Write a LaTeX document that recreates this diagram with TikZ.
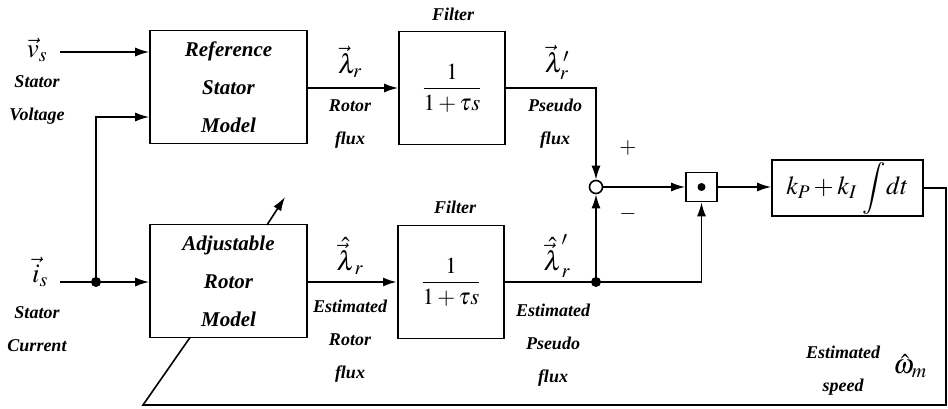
\documentclass[tikz,border=0pt]{standalone}
\usepackage{mathptmx}
\usepackage{fontspec}
\setmainfont{Liberation Serif}
\usetikzlibrary{arrows.meta}
\newcommand{\boxfont}{\fontsize{21}{38}\selectfont\bfseries\itshape}
\newcommand{\lblfont}{\fontsize{18}{33}\selectfont\bfseries\itshape}
\newcommand{\mfont}{\fontsize{27}{30}\selectfont}
\begin{document}
\begin{tikzpicture}[x=1pt,y=-1pt,
  line width=1.6pt,
  blk/.style={draw, rectangle, inner sep=0pt, font=\boxfont, align=center},
  lbl/.style={font=\lblfont, align=center, inner sep=0pt},
  sym/.style={font=\mfont, inner sep=0pt},
  arr/.style={-{Latex[length=14pt,width=9pt]}},
  dot/.style={circle, fill=black, inner sep=0pt, minimum size=10pt}]
\useasboundingbox (0,0) rectangle (948,409);
% blocks
\node[blk, minimum width=157pt, minimum height=113pt] (ref) at (228.5,87) {Reference\\Stator\\Model};
\node[blk, minimum width=157pt, minimum height=113pt] (adj) at (228.5,281) {Adjustable\\Rotor\\Model};
\node[blk, minimum width=106pt, minimum height=113pt, font=\fontsize{23}{26}\selectfont] (f1) at (452,88) {$\displaystyle\frac{\;1\;}{1+\tau s}$};
\node[blk, minimum width=106pt, minimum height=113pt, font=\fontsize{23}{26}\selectfont] (f2) at (451,282) {$\displaystyle\frac{\;1\;}{1+\tau s}$};
\node[draw, circle, inner sep=0pt, minimum size=13pt, fill=white] (sum) at (596,187) {};
\node[blk, minimum width=31pt, minimum height=29pt] (mult) at (701.5,187) {};
\node[dot, minimum size=8pt] (multdot) at (701.5,187) {};
\node[blk, minimum width=151pt, minimum height=56pt, font=\fontsize{26}{30}\selectfont] (pi) at (847.5,188) {$k_P+k_I\,\displaystyle\int\! dt$};
% input labels
\node[sym] (vs) at (37,50) {$\vec{v}_s$};
\node[lbl] (vsl) at (37,100) {Stator\\Voltage};
\node[sym] (is) at (40,272) {$\vec{i}_s$};
\node[lbl] (isl) at (37,329) {Stator\\Current};
% filter titles
\node[lbl] (ft1) at (453,14) {Filter};
\node[lbl] (ft2) at (455,207) {Filter};
% signal labels
\node[sym] (lr) at (350,62) {$\vec{\lambda}_r$};
\node[lbl] (lrl) at (350,124) {Rotor\\flux};
\node[sym] (lrp) at (557,62) {${\vec{\lambda}_r}'$};
\node[lbl] (lrpl) at (555,124) {Pseudo\\flux};
\node[sym] (le) at (350,256) {$\hat{\vec{\lambda}}_r$};
\node[lbl] (lel) at (350,341) {Estimated\\Rotor\\flux};
\node[sym] (lep) at (557,256) {${\hat{\vec{\lambda}}_r}'$};
\node[lbl] (lepl) at (553,345) {Estimated\\Pseudo\\flux};
\node[font=\fontsize{22}{24}\selectfont, inner sep=0pt] (plus) at (628,148) {$+$};
\node[font=\fontsize{22}{24}\selectfont, inner sep=0pt] (minus) at (628,214) {$-$};
\node[lbl] (wl) at (843,371) {Estimated\\speed};
\node[sym] (wm) at (910,366) {$\hat{\omega}_m$};
% coordinates
\coordinate (vsend) at (60,52);
\coordinate (isend) at (60,282);
\coordinate (j1) at (96,282);
\coordinate (j1up) at (96,117);
\coordinate (f1out) at (596,88);
\coordinate (d2) at (596,282);
\coordinate (m2) at (701.5,282);
\coordinate (rgt) at (946,188);
\coordinate (rgtb) at (946,405);
\coordinate (lftb) at (143,405);
\coordinate (adjfb) at (190,337.5);
\coordinate (tuneA) at (267,225);
\coordinate (tuneB) at (285,197);
% connectors
\draw[arr] (vsend) -- (vsend -| ref.west);
\draw (isend) -- (j1);
\draw[arr] (j1) -- (adj.west |- j1);
\draw[arr] (j1) -- (j1up) -- (ref.west |- j1up);
\node[dot] at (j1) {};
\draw[arr] (ref.east |- f1) -- (f1.west);
\draw[arr, line width=2.6pt] (adj.east |- f2) -- (f2.west);
\draw[arr] (f1.east) -- (f1out) -- (sum.north);
\draw (f2.east) -- (d2) -- (m2);
\draw[arr] (m2) -- (mult.south);
\draw[arr] (d2) -- (sum.south);
\node[dot] at (d2) {};
\draw[arr] (sum.east) -- (mult.west);
\draw[arr] (mult.east) -- (mult.east -| pi.west);
\draw (pi.east) -- (rgt) -- (rgtb) -- (lftb) -- (adjfb);
\draw[arr] (tuneA) -- (tuneB);
\end{tikzpicture}
\end{document}
